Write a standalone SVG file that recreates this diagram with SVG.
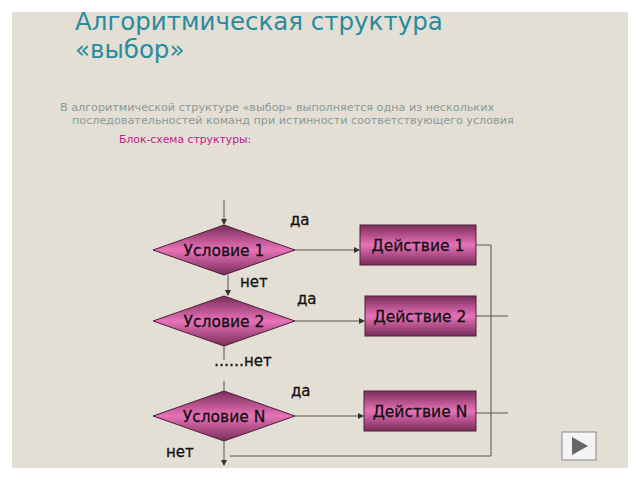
<svg xmlns="http://www.w3.org/2000/svg" width="640" height="480" viewBox="0 0 640 480">
<defs>
<linearGradient id="g" x1="0" y1="0" x2="0" y2="1">
<stop offset="0" stop-color="#7a2c5a"/><stop offset="0.5" stop-color="#e872b8"/><stop offset="1" stop-color="#7a2c5a"/>
</linearGradient>
<marker id="a" markerWidth="6" markerHeight="6" refX="5" refY="3" orient="auto" markerUnits="userSpaceOnUse"><path d="M0,0L6,3L0,6z" fill="#333"/></marker>
<style>
.n{fill:url(#g);stroke:#4a2038;stroke-width:1}
.t{font-family:"DejaVu Sans",sans-serif;font-size:15.5px;fill:#111;text-anchor:middle;stroke:#111;stroke-width:0.3}
.l{font-family:"DejaVu Sans",sans-serif;font-size:15px;fill:#111;stroke:#111;stroke-width:0.3}
.c{fill:none;stroke:#555;stroke-width:1}
</style>
</defs>
<rect width="640" height="480" fill="#fff"/>
<rect x="12" y="12" width="616" height="456" fill="#e3dfd4"/>
<text x="75" y="30" font-family="DejaVu Sans,sans-serif" font-size="24.5" fill="#2a8aa0">Алгоритмическая структура</text>
<text x="75" y="58" font-family="DejaVu Sans,sans-serif" font-size="24.5" fill="#2a8aa0">«выбор»</text>
<text x="60" y="111" font-family="DejaVu Sans,sans-serif" font-size="11.2" fill="#8a9a9a">В алгоритмической структуре «выбор» выполняется одна из нескольких</text>
<text x="72" y="124" font-family="DejaVu Sans,sans-serif" font-size="11.2" fill="#8a9a9a">последовательностей команд при истинности соответствующего условия</text>
<text x="119" y="143" font-family="DejaVu Sans,sans-serif" font-size="10.8" fill="#c0208a">Блок-схема структуры:</text>
<g id="connectors">
<path class="c" d="M224,200V224" marker-end="url(#a)"/>
<path class="c" d="M295,250H359" marker-end="url(#a)"/>
<path class="c" d="M228,275V295" marker-end="url(#a)"/>
<path class="c" d="M295,321H364" marker-end="url(#a)"/>
<path class="c" d="M224,346V360M224,381V391"/>
<path class="c" d="M295,416H363" marker-end="url(#a)"/>
<path class="c" d="M224,441V465" marker-end="url(#a)"/>
<path class="c" d="M476,245H491V456H230"/>
<path class="c" d="M476,316H508M476,413H508"/>
</g>
<g id="c1"><path class="n" d="M153,250L224,225L295,250L224,275Z"/><text class="t" x="224" y="256">Условие 1</text></g>
<g id="c2"><path class="n" d="M153,321L224,296L295,321L224,346Z"/><text class="t" x="224" y="327">Условие 2</text></g>
<g id="cN"><path class="n" d="M153,416L224,391L295,416L224,441Z"/><text class="t" x="224" y="422">Условие N</text></g>
<g id="a1"><rect class="n" x="360" y="225" width="116" height="40"/><text class="t" x="418" y="251">Действие 1</text></g>
<g id="a2"><rect class="n" x="365" y="296" width="111" height="40"/><text class="t" x="420" y="322">Действие 2</text></g>
<g id="aN"><rect class="n" x="364" y="391" width="112" height="40"/><text class="t" x="420" y="417">Действие N</text></g>
<text class="l" x="290" y="225">да</text>
<text class="l" x="240" y="287">нет</text>
<text class="l" x="297" y="304">да</text>
<text class="l" x="214" y="366">……нет</text>
<text class="l" x="291" y="396">да</text>
<text class="l" x="166" y="457">нет</text>
<g id="play"><rect x="562" y="432" width="34" height="28" fill="#f4f4f4" stroke="#888"/><path d="M572,437L588,446L572,455Z" fill="#666"/></g>
</svg>
